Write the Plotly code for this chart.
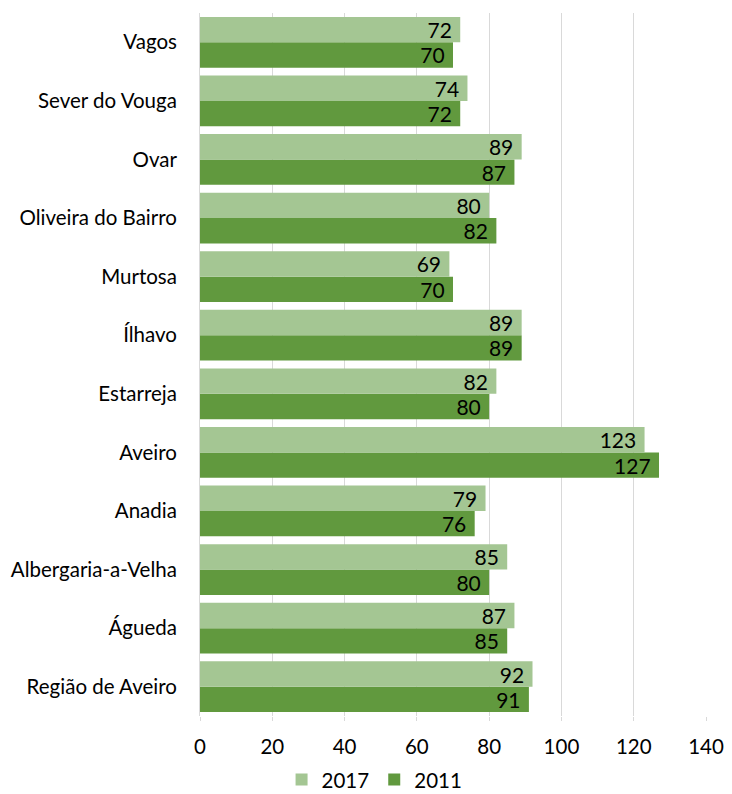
import plotly.graph_objects as go

# Municipalities, bottom to top as drawn on the category axis
municipios = [
    "Região de Aveiro", "Águeda", "Albergaria-a-Velha", "Anadia", "Aveiro",
    "Estarreja", "Ílhavo", "Murtosa", "Oliveira do Bairro", "Ovar",
    "Sever do Vouga", "Vagos",
]
valores_2017 = [92, 87, 85, 79, 123, 82, 89, 69, 80, 89, 74, 72]
valores_2011 = [91, 85, 80, 76, 127, 80, 89, 70, 82, 87, 72, 70]
x_ticks = [0, 20, 40, 60, 80, 100, 120, 140]

FONT = "Lato, 'Open Sans', sans-serif"
COR_2017 = "#A4C693"
COR_2011 = "#61993E"

fig = go.Figure()

# 2011 first so that it sits below 2017 inside each group
fig.add_trace(go.Bar(
    y=municipios, x=valores_2011, name="2011", orientation="h",
    marker=dict(color=COR_2011, line=dict(width=0)),
    text=[f"{v}\u00a0" for v in valores_2011],
    textposition="inside", insidetextanchor="end",
    textfont=dict(color="black", size=21, family=FONT),
    legendrank=2,
))
fig.add_trace(go.Bar(
    y=municipios, x=valores_2017, name="2017", orientation="h",
    marker=dict(color=COR_2017, line=dict(width=0)),
    text=[f"{v}\u00a0" for v in valores_2017],
    textposition="inside", insidetextanchor="end",
    textfont=dict(color="black", size=21, family=FONT),
    legendrank=1,
))

fig.update_layout(
    width=732, height=794,
    margin=dict(l=200, r=26, t=13, b=78),
    paper_bgcolor="white", plot_bgcolor="white",
    barmode="group", bargap=0.135, bargroupgap=0,
    font=dict(family=FONT, size=20.5, color="black"),
    uniformtext=dict(minsize=21, mode="show"),
    legend=dict(
        orientation="h", x=0.345, xanchor="center",
        yref="container", y=0.018, yanchor="middle",
        font=dict(size=20.5), itemwidth=30,
    ),
    showlegend=True,
)
fig.update_xaxes(
    range=[0, 140], tickvals=x_ticks, ticktext=[str(t) for t in x_ticks],
    showgrid=True, gridcolor="#D9D9D9", gridwidth=1,
    zeroline=False, showline=False, automargin=False,
    ticks="outside", ticklen=4, tickcolor="#D9D9D9",
    ticklabelstandoff=8,
)
fig.update_yaxes(
    categoryorder="array", categoryarray=municipios,
    showline=True, linecolor="#D9D9D9", linewidth=1, automargin=False,
    showgrid=False, ticks="", ticklabelstandoff=18,
)

fig.write_html("out.html")
